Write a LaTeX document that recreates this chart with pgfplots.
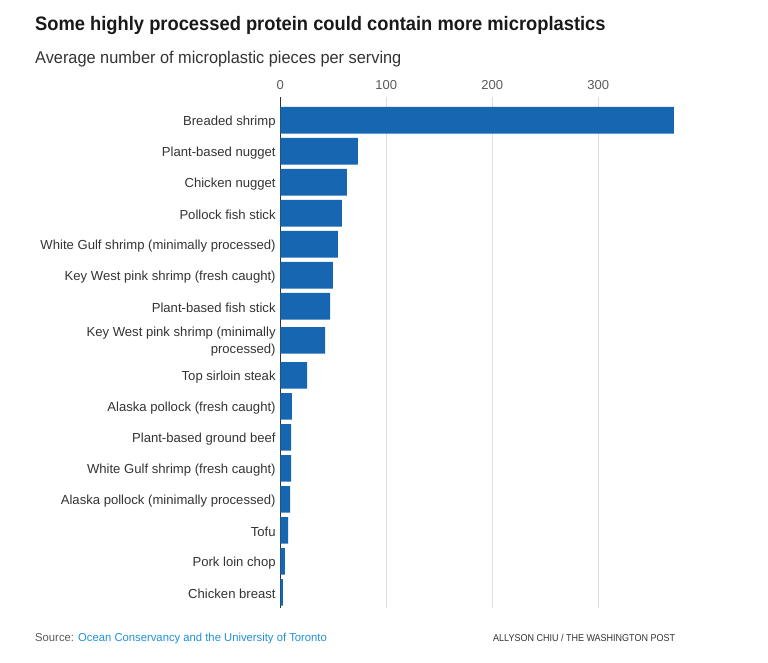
\documentclass[border=0pt]{standalone}
\usepackage{graphicx}
\usepackage{fontspec}
\setmainfont{Liberation Sans}
\usepackage{pgfplots}
\pgfplotsset{compat=1.18}
\definecolor{barblue}{RGB}{22,102,178}
\definecolor{labgray}{RGB}{51,51,51}
\definecolor{tickgray}{RGB}{90,90,90}
\definecolor{gridgray}{RGB}{221,221,221}
\definecolor{linkblue}{RGB}{32,145,214}
\begin{document}
\begin{tikzpicture}[x=1pt,y=1pt]
\path[use as bounding box] (0,0) rectangle (768,663);
\node[anchor=base west,inner sep=0,text=black!90] at (35,632) {\scalebox{0.94}[1]{\fontsize{19.5}{22}\selectfont\bfseries Some highly processed protein could contain more microplastics}};
\node[anchor=base west,inner sep=0,text=labgray] at (35,599.5) {\scalebox{0.96}[1]{\fontsize{17}{19}\selectfont Average number of microplastic pieces per serving}};
\node[anchor=base west,inner sep=0,text=tickgray] at (35,21.5) {\scalebox{0.98}[1]{\fontsize{11.5}{13}\selectfont Source: \textcolor{linkblue}{Ocean Conservancy and the University of Toronto}}};
\node[anchor=base west,inner sep=0,text=labgray] at (493,21.5) {\scalebox{0.9}[1]{\fontsize{10}{12}\selectfont ALLYSON CHIU / THE WASHINGTON POST}};
\begin{axis}[
  at={(280.3pt,566.3pt)}, anchor=north west,
  scale only axis, width=394.3pt, height=511.5pt,
  xmin=0, xmax=372, ymin=-15.74, ymax=0.76,
  axis x line*=top, axis y line*=left,
  x axis line style={draw=none},
  y axis line style={draw=labgray,line width=1.2pt,-},
  xtick={0,100,200,300},
  xmajorgrids, grid style={gridgray,line width=0.8pt},
  major tick length=0pt,
  xticklabel style={font=\fontsize{13}{14}\selectfont, text=tickgray, inner sep=0pt, yshift=7pt},
  /pgf/number format/assume math mode=true,
  ytick={-15.23,-14.23,-13.23,-12.23,-11.23,-10.23,-9.23,-8.23,-7.1,-6,-5,-4,-3,-2,-1,0},
  yticklabels={Chicken breast,Pork loin chop,Tofu,Alaska pollock (minimally processed),White Gulf shrimp (fresh caught),Plant-based ground beef,Alaska pollock (fresh caught),Top sirloin steak,{Key West pink shrimp (minimally\\processed)},Plant-based fish stick,Key West pink shrimp (fresh caught),White Gulf shrimp (minimally processed),Pollock fish stick,Chicken nugget,Plant-based nugget,Breaded shrimp},
  yticklabel style={font=\fontsize{13.1}{16.5}\selectfont, text=labgray, align=right, inner sep=0pt, xshift=-4.5pt, yshift=-1.5pt},
  clip=false,
]
\addplot[xbar, bar width=26.7pt, draw=none, fill=barblue] coordinates {
(371.4,0) (73.3,-1) (62.9,-2) (58.2,-3) (54.4,-4) (49.7,-5) (46.9,-6) (42.2,-7.1)
(25.2,-8.23) (11.0,-9.23) (10.1,-10.23) (10.1,-11.23) (9.2,-12.23) (7.3,-13.23) (4.4,-14.23) (2.5,-15.23)
};
\end{axis}
\end{tikzpicture}
\end{document}
